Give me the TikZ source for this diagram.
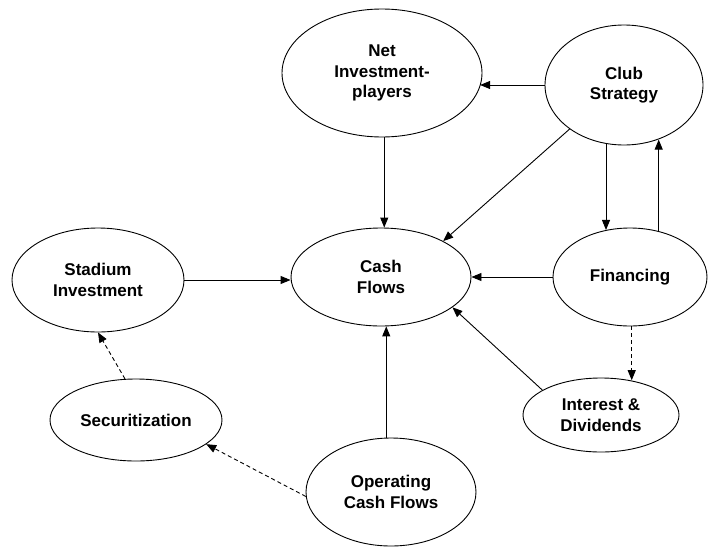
\documentclass[tikz,border=0pt]{standalone}
\usepackage{fontspec}
\setmainfont{Liberation Sans}
\usetikzlibrary{arrows.meta,shapes}

\begin{document}
\begin{tikzpicture}[x=1pt,y=-1pt,
  blob/.style={ellipse,draw,line width=0.9pt,inner sep=0pt,align=center,
    font=\fontsize{17}{20.5}\selectfont\bfseries},
  link/.style={line width=0.9pt,-{Triangle[length=10pt,width=8pt]}},
  dlink/.style={link,dash pattern=on 4pt off 3pt}]
\useasboundingbox (0,0) rectangle (709,549);
% Visual representation
\node[blob,minimum width=200pt,minimum height=128pt] (net) at (382,73) {Net\\Investment-\\players};
\node[blob,minimum width=158pt,minimum height=120pt] (club) at (624,85) {Club\\Strategy};
\node[blob,minimum width=180pt,minimum height=98pt] (cash) at (381,277) {Cash\\Flows};
\node[blob,minimum width=172pt,minimum height=104pt] (stadium) at (98,280) {Stadium\\Investment};
\node[blob,minimum width=154pt,minimum height=98pt] (fin) at (630,277) {Financing};
\node[blob,minimum width=172pt,minimum height=82pt] (sec) at (136,420) {Securitization};
\node[blob,minimum width=156pt,minimum height=74pt] (int) at (601,415) {Interest \&\\Dividends};
\node[blob,minimum width=170pt,minimum height=108pt] (op) at (391,492) {Operating\\Cash Flows};

\draw[link] (club.west) -- (club.west -| net.352);
\draw[link] (net.272) -- (net.272 |- cash.north);
\draw[link] (club.219) -- (cash.30);
\draw[link] (club.253) -- (club.253 |- fin.117);
\draw[link] (fin.58) -- (fin.58 |- club.302);
\draw[link] (fin.west) -- (cash.east);
\draw[link] (stadium.east) -- (stadium.east -| cash.west);
\draw[link] (int.157) -- (cash.337);
\draw[link] (op.95) -- (op.95 |- cash.265);
\draw[dlink] (fin.272) -- (fin.272 |- int.50);
\draw[dlink] (op.183) -- (sec.341);
\draw[dlink] (sec.105) -- (stadium.270);
\end{tikzpicture}
\end{document}
